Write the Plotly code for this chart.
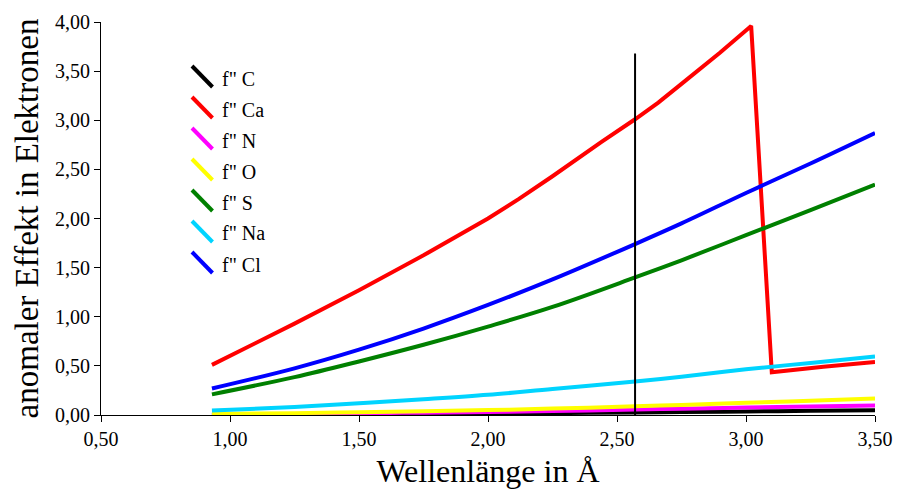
import plotly.graph_objects as go

# ---------------- data ----------------
x_ca = [0.93, 1.1, 1.25, 1.5, 1.75, 2.0, 2.12, 2.25, 2.35, 2.44, 2.57, 2.66, 2.75, 2.90, 3.02, 3.10, 3.30, 3.50]
f_ca = [0.51, 0.73, 0.93, 1.27, 1.625, 2.00, 2.20, 2.43, 2.62, 2.78, 3.01, 3.18, 3.37, 3.69, 3.96, 0.435, 0.49, 0.54]

x_common = [0.93, 1.25, 1.5, 1.75, 2.0, 2.25, 2.57, 2.75, 3.0, 3.25, 3.5]
f_c = [0.0, 0.004, 0.007, 0.010, 0.014, 0.019, 0.026, 0.030, 0.036, 0.042, 0.048]
f_n = [0.005, 0.011, 0.017, 0.024, 0.031, 0.040, 0.055, 0.064, 0.076, 0.087, 0.097]
f_o = [0.010, 0.019, 0.028, 0.038, 0.050, 0.065, 0.088, 0.103, 0.124, 0.146, 0.168]
f_s = [0.21, 0.385, 0.545, 0.715, 0.90, 1.10, 1.40, 1.575, 1.83, 2.085, 2.345]
f_na = [0.045, 0.082, 0.12, 0.16, 0.205, 0.265, 0.34, 0.39, 0.465, 0.53, 0.595]
f_cl = [0.27, 0.475, 0.665, 0.88, 1.12, 1.38, 1.74, 1.95, 2.26, 2.56, 2.87]

marker_x = [2.57, 2.57]
marker_y = [0.0, 3.68]

x_ticks = [0.5, 1.0, 1.5, 2.0, 2.5, 3.0, 3.5]
y_ticks = [0.0, 0.5, 1.0, 1.5, 2.0, 2.5, 3.0, 3.5, 4.0]

names = ['f" C', 'f" Ca', 'f" N', 'f" O', 'f" S', 'f" Na', 'f" Cl']
colors = ["#000000", "#ff0000", "#ff00ff", "#ffff00", "#008000", "#00d4ff", "#0000ff"]
series_x = [x_common, x_ca, x_common, x_common, x_common, x_common, x_common]
series_y = [f_c, f_ca, f_n, f_o, f_s, f_na, f_cl]

FONT = "Liberation Serif, Times New Roman, serif"

# ---------------- figure ----------------
W, H = 897, 490
ML, MR, MT, MB = 101, 22, 22, 75

fig = go.Figure()
for xs, ys, name, col in zip(series_x, series_y, names, colors):
    fig.add_trace(go.Scatter(
        x=xs, y=ys, mode="lines", name=name,
        line=dict(color=col, width=4, shape="linear" if xs is x_ca else "spline", smoothing=1.0),
        showlegend=False, hoverinfo="skip"))

fig.add_trace(go.Scatter(x=marker_x, y=marker_y, mode="lines",
                         line=dict(color="black", width=2), showlegend=False, hoverinfo="skip"))

# custom legend with diagonal symbols (layout decoration in paper coordinates)
pw, ph = W - ML - MR, H - MT - MB
def px2paper(px, py):
    return (px - ML) / pw, (H - MB - py) / ph

shapes = []
annotations = []
for i, (name, col) in enumerate(zip(names, colors)):
    yc = 76.5 + 31 * i
    x0, y0 = px2paper(192, yc - 10.5)
    x1, y1 = px2paper(212.5, yc + 10.5)
    shapes.append(dict(type="line", xref="paper", yref="paper", x0=x0, y0=y0, x1=x1, y1=y1,
                       line=dict(color=col, width=4)))
    tx, ty = px2paper(220, yc + 2)
    annotations.append(dict(xref="paper", yref="paper", x=tx, y=ty, text=name, showarrow=False,
                            xanchor="left", yanchor="middle",
                            font=dict(family=FONT, size=20, color="black")))

fig.update_layout(
    width=W, height=H,
    margin=dict(l=ML, r=MR, t=MT, b=MB, autoexpand=False),
    paper_bgcolor="white", plot_bgcolor="white",
    separators=",.",
    font=dict(family=FONT, color="black"),
    shapes=shapes, annotations=annotations,
    showlegend=False,
)
fig.update_xaxes(
    range=[0.5, 3.5], tickvals=x_ticks, tickformat=".2f", automargin=False,
    showgrid=False, zeroline=False, showline=True, linecolor="black", linewidth=1,
    ticks="outside", ticklen=6, tickcolor="black", tickwidth=1,
    tickfont=dict(family=FONT, size=20, color="black"),
    title=dict(text="Wellenlänge in Å", font=dict(family=FONT, size=32, color="black"), standoff=10),
)
fig.update_yaxes(
    range=[0, 4.0], tickvals=y_ticks, tickformat=".2f", automargin=False,
    showgrid=False, zeroline=False, showline=True, linecolor="black", linewidth=1,
    ticks="outside", ticklen=6, tickcolor="black", tickwidth=1,
    tickfont=dict(family=FONT, size=20, color="black"),
    title=dict(text="anomaler Effekt in Elektronen", font=dict(family=FONT, size=33, color="black"), standoff=6),
)

fig.write_html("out.html")
